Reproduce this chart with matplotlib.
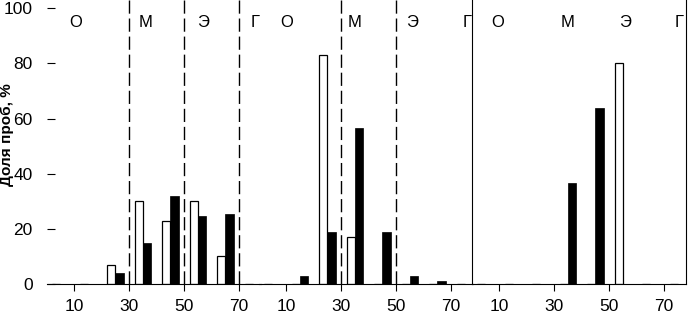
import numpy as np
import matplotlib.pyplot as plt

plt.rcParams['font.family'] = ['Liberation Sans', 'DejaVu Sans']

# left edges of 10-unit bins
bins = np.array([0, 10, 20, 30, 40, 50, 60, 70])
xticks = [10, 30, 50, 70]
zones = ['О', 'М', 'Э', 'Г']

white_1 = [0, 0, 7, 30, 23, 30, 10, 0]
black_1 = [0, 0, 4, 15, 32, 24.5, 25.5, 0]
white_2 = [0, 0, 83, 17, 0, 0, 0, 0]
black_2 = [0, 3, 19, 56.5, 19, 3, 1, 0]
white_3 = [0, 0, 0, 0, 0, 80, 0, 0]
black_3 = [0, 0, 0, 36.5, 64, 0, 0, 0]

panels = [
    (white_1, black_1, [30, 50, 70], [10.7, 36, 57, 76]),
    (white_2, black_2, [30, 50], [10.3, 35, 56, 75.7]),
    (white_3, black_3, [], [9.6, 35, 55.8, 75.5]),
]

W, H = 688, 316
fig = plt.figure(figsize=(W / 100, H / 100), dpi=100)

lefts = [46.5, 258.5, 471.5]
pw = 214.5
for i, (white, black, dashes, zx) in enumerate(panels):
    ax = fig.add_axes([lefts[i] / W, 32 / H, pw / W, 284 / H])
    ax.set_facecolor('none')
    ax.bar(bins + 3.5, white, width=3, color='white', edgecolor='black', linewidth=0.9)
    ax.bar(bins + 6.5, black, width=3, color='black', edgecolor='black', linewidth=0.5)
    for d in dashes:
        ax.axvline(d, color='black', lw=1, dashes=(9.5, 3.5))
    for x, z in zip(zx, zones):
        ax.text(x, 95, z, ha='center', va='center', fontsize=12)
    ax.set_xlim(0, 78)
    ax.set_ylim(0, 103)
    ax.set_xticks(xticks)
    ax.tick_params(axis='x', direction='out', length=5, pad=6, labelsize=12.5)
    for s in ['top', 'left', 'right']:
        ax.spines[s].set_visible(False)
    if i == 0:
        ax.set_yticks([0, 20, 40, 60, 80, 100])
        ax.tick_params(axis='y', direction='in', length=6, pad=10, labelsize=12.5)
    else:
        ax.set_yticks([])
    if i == 2:
        ax.spines['left'].set_visible(True)
        ax.spines['right'].set_visible(True)

fig.text(0.0, 0.573, 'Доля проб, %', rotation=90, ha='left', va='center',
         fontsize=11, fontweight='bold')

fig.savefig('out.png', dpi=100)
